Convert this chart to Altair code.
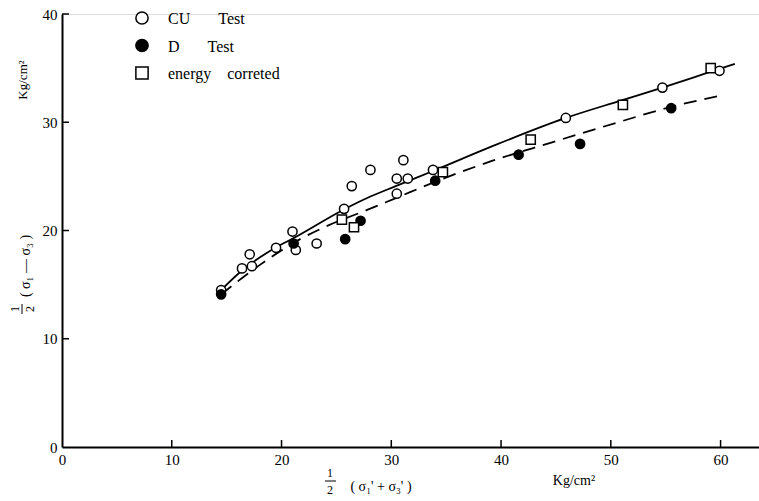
import altair as alt
import pandas as pd

# ---- data ----
cu_x = [14.5, 16.4, 17.1, 17.3, 19.5, 21.0, 21.3, 23.2, 25.7, 26.4, 28.1, 30.5, 31.5, 31.1, 30.5, 33.8, 45.9, 54.7, 59.9]
cu_y = [14.5, 16.5, 17.8, 16.7, 18.4, 19.9, 18.2, 18.8, 22.0, 24.1, 25.6, 24.8, 24.8, 26.5, 23.4, 25.6, 30.4, 33.2, 34.75]

d_x = [14.5, 21.1, 25.8, 27.2, 34.0, 41.6, 47.2, 55.5]
d_y = [14.1, 18.8, 19.2, 20.9, 24.6, 27.0, 28.0, 31.3]

e_x = [25.5, 26.6, 34.7, 42.7, 51.1, 59.1]
e_y = [21.0, 20.3, 25.4, 28.4, 31.6, 35.0]

solid_x = [14.4, 16.4, 19.6, 21.1, 25.6, 27.8, 30.4, 33.8, 39.0, 45.9, 50.9, 54.7, 58.9, 61.3]
solid_y = [14.4, 16.3, 18.5, 19.3, 21.9, 23.0, 24.1, 25.5, 27.7, 30.4, 32.0, 33.2, 34.6, 35.4]

dash_x = [14.5, 18.0, 21.7, 24.1, 27.8, 30.2, 34.5, 39.1, 44.5, 51.0, 55.4, 59.7]
dash_y = [14.1, 16.8, 19.2, 20.4, 21.9, 22.9, 24.7, 26.4, 28.1, 30.1, 31.4, 32.4]

series = ["CU\u00a0\u00a0\u00a0\u00a0\u00a0\u00a0\u00a0Test",
          "\u00a0D\u00a0\u00a0\u00a0\u00a0\u00a0\u00a0\u00a0Test",
          "\u00a0energy\u00a0\u00a0\u00a0\u00a0correted"]
shapes = ["circle", "circle", "square"]
fills = ["white", "black", "white"]

x_ticks = [0, 10, 20, 30, 40, 50, 60]
y_ticks = [0, 10, 20, 30, 40]

FONT = "Liberation Serif"

pts = pd.DataFrame(
    [{"x": a, "y": b, "s": series[0]} for a, b in zip(cu_x, cu_y)]
    + [{"x": a, "y": b, "s": series[1]} for a, b in zip(d_x, d_y)]
    + [{"x": a, "y": b, "s": series[2]} for a, b in zip(e_x, e_y)]
)
solid = pd.DataFrame({"x": solid_x, "y": solid_y})
dash = pd.DataFrame({"x": dash_x, "y": dash_y})
xt = pd.DataFrame({"v": [float(v) for v in x_ticks[1:]]})
yt = pd.DataFrame({"v": [float(v) for v in y_ticks[1:]]})

xs = alt.Scale(domain=[0, 63.5], nice=False, zero=False)
ys = alt.Scale(domain=[0, 40], nice=False, zero=False)

xax = alt.Axis(values=x_ticks, ticks=False, grid=False, title=None, labelFlush=False)
yax = alt.Axis(values=y_ticks, ticks=False, grid=False, title=None)

X = alt.X("x:Q", scale=xs, axis=xax, title=None)
Y = alt.Y("y:Q", scale=ys, axis=yax, title=None)

solid_line = alt.Chart(solid).mark_line(color="black", strokeWidth=1.8, interpolate="monotone").encode(x=X, y=Y)
dash_line = alt.Chart(dash).mark_line(color="black", strokeWidth=1.8, strokeDash=[13, 8],
                                      interpolate="monotone").encode(x=X, y=Y)

points = alt.Chart(pts).mark_point(filled=True, stroke="black", strokeWidth=1.5, size=85, opacity=1).encode(
    x=X, y=Y,
    shape=alt.Shape("s:N", scale=alt.Scale(domain=series, range=shapes), legend=None),
    fill=alt.Fill("s:N", scale=alt.Scale(domain=series, range=fills), legend=None),
)

# inward-pointing tick marks through the scales
xtick = alt.Chart(xt).mark_rule(color="black", strokeWidth=1.5).encode(
    x=alt.X("v:Q", scale=xs, axis=xax, title=None),
    y=alt.value(433), y2=alt.value(426))
ytick = alt.Chart(yt).mark_rule(color="black", strokeWidth=1.5).encode(
    y=alt.Y("v:Q", scale=ys, axis=yax, title=None),
    x=alt.value(0), x2=alt.value(7))

# hand-placed legend (key at top left, as in the original)
legend_layers = []
for i, (name, shp, fc) in enumerate(zip(series, shapes, fills)):
    ly = 4 + i * 27.5
    legend_layers.append(
        alt.Chart(pd.DataFrame({"a": [0]})).mark_point(
            shape=shp, filled=True, fill=fc, stroke="black", strokeWidth=1.5, size=150, opacity=1
        ).encode(x=alt.value(80), y=alt.value(ly))
    )
    legend_layers.append(
        alt.Chart(pd.DataFrame({"t": [name]})).mark_text(
            font=FONT, fontSize=16, color="black", align="left", baseline="middle"
        ).encode(text="t:N", x=alt.value(106), y=alt.value(ly + 1))
    )

def txt(s, px, py, size=15, angle=0):
    return alt.Chart(pd.DataFrame({"t": [s]})).mark_text(
        font=FONT, fontSize=size, color="black", angle=angle, align="center", baseline="middle"
    ).encode(text="t:N", x=alt.value(px - 62), y=alt.value(py - 14))

def bar_h(x1, x2, py):
    return alt.Chart(pd.DataFrame({"a": [0]})).mark_rule(color="black", strokeWidth=1).encode(
        x=alt.value(x1 - 62), x2=alt.value(x2 - 62), y=alt.value(py - 14))

def bar_v(px, y1, y2):
    return alt.Chart(pd.DataFrame({"a": [0]})).mark_rule(color="black", strokeWidth=1).encode(
        x=alt.value(px - 62), y=alt.value(y1 - 14), y2=alt.value(y2 - 14))

annots = [
    # y title
    txt("( σ₁ — σ₃ )", 26, 266, 14, 270),
    txt("1", 15, 309, 12, 270),
    bar_v(22, 304, 314),
    txt("2", 30, 309, 12, 270),
    txt("Kg/cm²", 23, 80, 13, 270),
    # x title
    txt("1", 330, 473, 12),
    bar_h(325, 336, 481),
    txt("2", 330, 490, 12),
    txt("(  σ₁'  +  σ₃'  )", 381, 487, 14),
    txt("Kg/cm²", 574, 481, 14),
]

chart = alt.layer(solid_line, dash_line, xtick, ytick, points, *legend_layers, *annots).properties(
    width=697, height=433,
    autosize=alt.AutoSizeParams(type="none"),
    padding={"left": 62, "top": 14, "right": 0, "bottom": 54},
).configure_view(stroke=None).configure(background="white").configure_axis(
    domainColor="black", domainWidth=2, labelFont=FONT, labelFontSize=15,
    labelColor="black", labelPadding=5, ticks=False, grid=False
)

chart.save("out.html", embed_options={"renderer": "svg", "actions": False})
